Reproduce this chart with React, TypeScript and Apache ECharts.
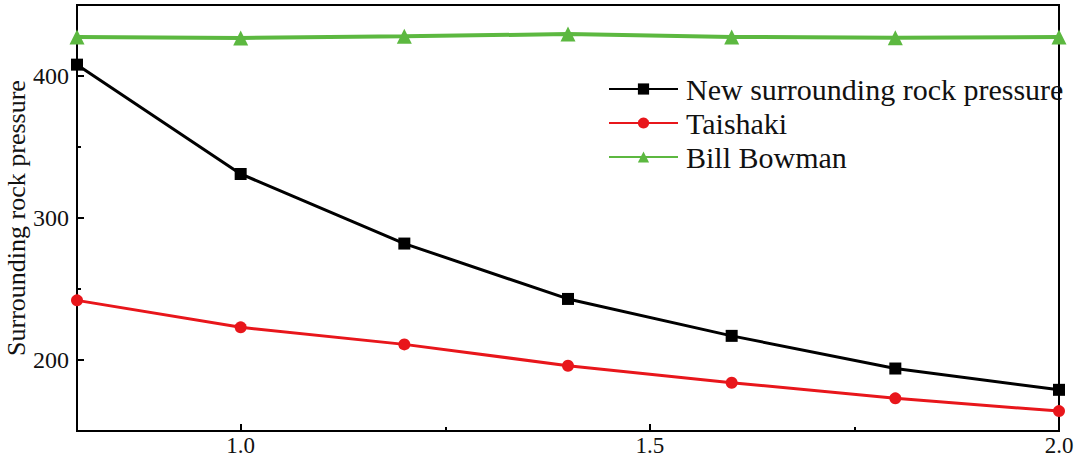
import React, { useEffect, useRef } from "react";
import * as echarts from "echarts";

const xValues = [0.8, 1.0, 1.2, 1.4, 1.6, 1.8, 2.0];
const newPressure = [408, 331, 282, 243, 217, 194, 179];
const taishaki = [242, 223, 211, 196, 184, 173, 164];
const billBowman = [427.5, 426.8, 428, 429.5, 427.5, 427, 427.5];
const xMajorTicks = [1.0, 1.5, 2.0];
const xMinorTicks = [1.25, 1.75];
const yMajorTicks = [200, 300, 400];
const yMinorTicks = [250, 350];

const FONT = "'Liberation Serif', 'Times New Roman', serif";

export default function App() {
  const ref = useRef<HTMLDivElement>(null);
  useEffect(() => {
    if (!ref.current) return;
    const chart = echarts.init(ref.current, null, { renderer: "svg" });
    const pair = (ys: number[]) => xValues.map((x, i) => [x, ys[i]]);
    const hiddenAxisBase = {
      type: "value" as const,
      axisLine: { show: false },
      axisLabel: { show: false },
      splitLine: { show: false },
    };
    chart.setOption({
      animation: false,
      backgroundColor: "#fff",
      textStyle: { fontFamily: FONT },
      grid: {
        left: 77,
        right: 18,
        top: 5,
        bottom: 28,
        containLabel: false,
        outerBoundsMode: "none",
        show: true,
        borderColor: "#000",
        borderWidth: 2,
      },
      legend: {
        orient: "vertical",
        left: 603,
        top: 69,
        itemWidth: 69,
        itemHeight: 14,
        itemGap: 4,
        textStyle: { fontFamily: FONT, fontSize: 30, color: "#111", padding: [0, 0, 0, 3] },
        data: ["New surrounding rock pressure", "Taishaki", "Bill Bowman"],
      },
      xAxis: [
        {
          type: "value",
          min: 0.8,
          max: 2.0,
          axisLine: { show: true, lineStyle: { color: "#000", width: 2 } },
          axisTick: {
            show: true,
            inside: true,
            length: 7,
            lineStyle: { color: "#000", width: 2 },
            customValues: xMajorTicks,
          },
          axisLabel: {
            customValues: xMajorTicks,
            formatter: (v: number) => v.toFixed(1),
            fontFamily: FONT,
            fontSize: 23,
            color: "#111",
            margin: 3,
          },
          splitLine: { show: false },
        },
        {
          ...hiddenAxisBase,
          min: 0.8,
          max: 2.0,
          position: "bottom",
          axisTick: {
            show: true,
            inside: true,
            length: 4,
            lineStyle: { color: "#000", width: 2 },
            customValues: xMinorTicks,
          },
        },
      ],
      yAxis: [
        {
          type: "value",
          min: 150,
          max: 450,
          name: "Surrounding rock pressure",
          nameLocation: "middle",
          nameGap: 48,
          nameMoveOverlap: false,
          nameTextStyle: { fontFamily: FONT, fontSize: 26, color: "#111" },
          axisLine: { show: true, lineStyle: { color: "#000", width: 2 } },
          axisTick: {
            show: true,
            inside: true,
            length: 7,
            lineStyle: { color: "#000", width: 2 },
            customValues: yMajorTicks,
          },
          axisLabel: {
            customValues: yMajorTicks,
            fontFamily: FONT,
            fontSize: 24,
            color: "#111",
            margin: 8,
          },
          splitLine: { show: false },
        },
        {
          ...hiddenAxisBase,
          min: 150,
          max: 450,
          position: "left",
          axisTick: {
            show: true,
            inside: true,
            length: 4,
            lineStyle: { color: "#000", width: 2 },
            customValues: yMinorTicks,
          },
        },
      ],
      series: [
        {
          name: "New surrounding rock pressure",
          type: "line",
          data: pair(newPressure),
          symbol: "rect",
          symbolSize: 12,
          itemStyle: { color: "#000" },
          lineStyle: { color: "#000", width: 3 },
        },
        {
          name: "Taishaki",
          type: "line",
          data: pair(taishaki),
          symbol: "circle",
          symbolSize: 12,
          itemStyle: { color: "#e8161b" },
          lineStyle: { color: "#e8161b", width: 3 },
        },
        {
          name: "Bill Bowman",
          type: "line",
          data: pair(billBowman),
          symbol: "triangle",
          symbolSize: 15,
          itemStyle: { color: "#5cb840" },
          lineStyle: { color: "#5cb840", width: 4 },
        },
      ],
    });
    return () => chart.dispose();
  }, []);
  return (
    <div
      ref={ref}
      style={{ position: "absolute", left: 0, top: 0, width: 1077, height: 459 }}
    />
  );
}
